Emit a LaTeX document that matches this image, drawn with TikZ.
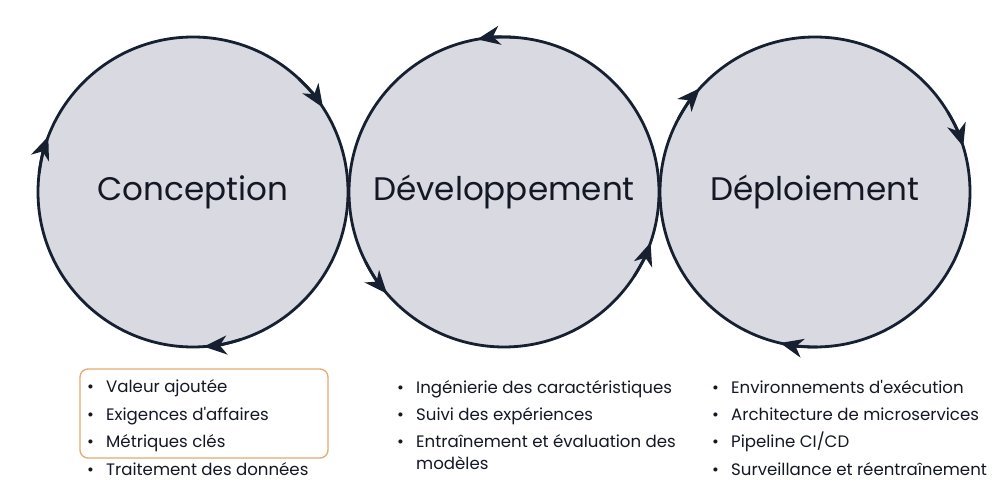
\documentclass[tikz,border=0pt]{standalone}
\usepackage{fontspec}
\setmainfont{Poppins}[Ligatures=TeXOff]
\usetikzlibrary{arrows.meta}
\definecolor{cfill}{RGB}{216,217,225}
\definecolor{cline}{RGB}{22,32,48}
\definecolor{ctext}{RGB}{20,24,36}
\definecolor{corange}{RGB}{226,170,110}
\newcommand{\bul}{\makebox[19pt][l]{•}}
\begin{document}
\begin{tikzpicture}[x=1pt,y=1pt,
  phase/.style={circle, draw=cline, line width=2.8pt, fill=cfill, minimum size=310pt, inner sep=0pt, font=\fontsize{32.6}{38}\selectfont, text=ctext},
  arr/.style={draw=cline, line width=2.8pt, -{Stealth[length=23pt,width=19pt,inset=7pt]}},
  item/.style={anchor=base west, inner sep=0pt, font=\fontsize{16.6}{20}\selectfont, text=ctext},
  hl/.style={draw=corange, line width=1.3pt, rounded corners=8pt}
]
\useasboundingbox (0,0) rectangle (1000,500);
\fill[white] (0,0) rectangle (1000,500);

\node[phase] (c1) at (193,308) {Conception};
\node[phase] (c2) at (504,308) {Développement};
\node[phase] (c3) at (815,308) {Déploiement};

% circle 1: clockwise
\foreach \a in {33,159,-86}{
  \draw[arr] (c1.center) ++(\a+14:155) arc (\a+14:\a:155);
}
% circle 2: counterclockwise
\foreach \a in {100,221,-19}{
  \draw[arr] (c2.center) ++(\a-14:155) arc (\a-14:\a:155);
}
% circle 3: clockwise
\foreach \a in {138,17,-103}{
  \draw[arr] (c3.center) ++(\a+14:155) arc (\a+14:\a:155);
}

\draw[hl] (80,131) rectangle (328,42);

\node[item] (a1) at (87,107) {\bul Valeur ajoutée};
\node[item] (a2) at (87,79) {\bul Exigences d'affaires};
\node[item] (a3) at (87,52) {\bul Métriques clés};
\node[item] (a4) at (87,24) {\bul Traitement des données};

\node[item] (b1) at (397,106) {\bul Ingénierie des caractéristiques};
\node[item] (b2) at (397,79) {\bul Suivi des expériences};
\node[item] (b3) at (397,52) {\bul Entraînement et évaluation des};
\node[item] (b3b) at (416,30) {modèles};

\node[item] (d1) at (712,106) {\bul Environnements d'exécution};
\node[item] (d2) at (712,79) {\bul Architecture de microservices};
\node[item] (d3) at (712,52) {\bul Pipeline CI/CD};
\node[item] (d4) at (712,24) {\bul Surveillance et réentraînement};
\end{tikzpicture}
\end{document}
